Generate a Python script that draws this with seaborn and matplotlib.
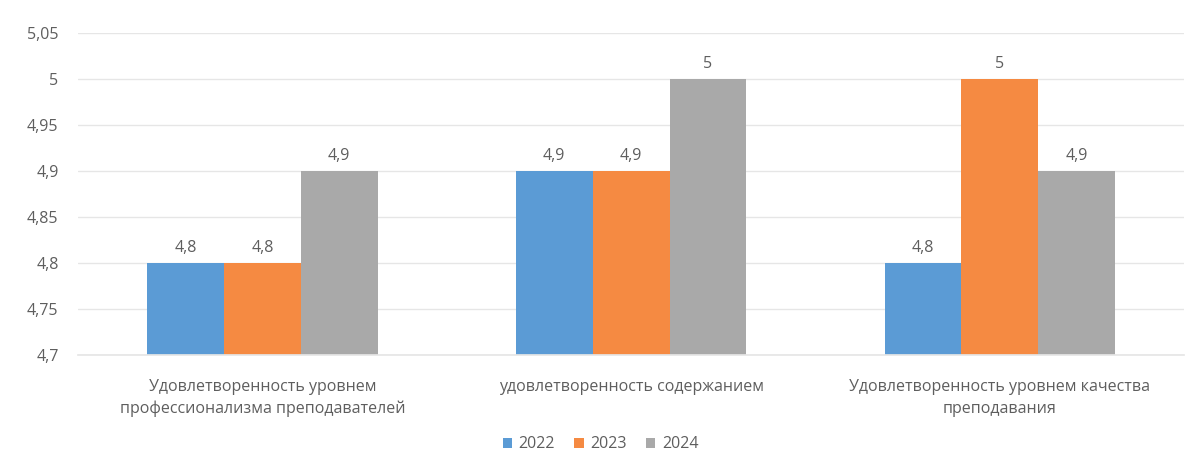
import pandas as pd
import numpy as np
import seaborn as sns
import matplotlib.pyplot as plt
from matplotlib.ticker import FuncFormatter

# data
categories = ['Удовлетворенность уровнем\nпрофессионализма преподавателей',
              'удовлетворенность содержанием',
              'Удовлетворенность уровнем качества\nпреподавания']
years = ['2022', '2023', '2024']
v2022 = [4.8, 4.9, 4.8]
v2023 = [4.8, 4.9, 5.0]
v2024 = [4.9, 5.0, 4.9]
yticks = [4.7, 4.75, 4.8, 4.85, 4.9, 4.95, 5.0, 5.05]
colors = ['#5B9BD5', '#F58A42', '#A9A9A9']

rows = []
for yr, vals in zip(years, [v2022, v2023, v2024]):
    for c, v in zip(categories, vals):
        rows.append({'cat': c, 'year': yr, 'val': v})
df = pd.DataFrame(rows)

sns.set_theme(style='white')
plt.rcParams['font.family'] = ['Open Sans', 'DejaVu Sans']
txt = '#5E5E5E'

fig = plt.figure(figsize=(12.01, 4.69), dpi=100)
ax = fig.add_axes([0.065, 0.243, 0.921, 0.687])

sns.barplot(data=df, x='cat', y='val', hue='year', palette=colors,
            width=0.625, gap=0, saturation=1, linewidth=0, ax=ax, legend=True)

def fmt(v):
    s = ('%.2f' % v).rstrip('0').rstrip('.')
    return s.replace('.', ',')

# axis starts at 4.7 like the original
ax.set_ylim(4.7, 5.05)
ax.set_yticks(yticks)
ax.yaxis.set_major_formatter(FuncFormatter(lambda v, p: fmt(v)))
ax.grid(axis='y', color='#E6E6E6', linewidth=1)
ax.set_axisbelow(True)
for s in ax.spines.values():
    s.set_visible(False)
ax.spines['bottom'].set_visible(True)
ax.spines['bottom'].set_color('#E6E6E6')

for cont in ax.containers:
    ax.bar_label(cont, labels=[fmt(b.get_height()) for b in cont],
                 padding=5, fontsize=11.5, color=txt)

ax.tick_params(axis='y', labelsize=11.5, labelcolor=txt, length=0, pad=14)
ax.tick_params(axis='x', labelsize=11.5, labelcolor=txt, length=0, pad=17)
for lab in ax.get_xticklabels():
    lab.set_linespacing(1.5)
ax.set_xlabel('')
ax.set_ylabel('')

ax.legend(loc='lower center', bbox_to_anchor=(0.5, 0.005), bbox_transform=fig.transFigure,
          ncol=3, frameon=False, fontsize=11.5, labelcolor=txt,
          handlelength=0.6, handleheight=0.6, handletextpad=0.4, columnspacing=1.2)

fig.savefig('out.png', dpi=100, facecolor='white')
